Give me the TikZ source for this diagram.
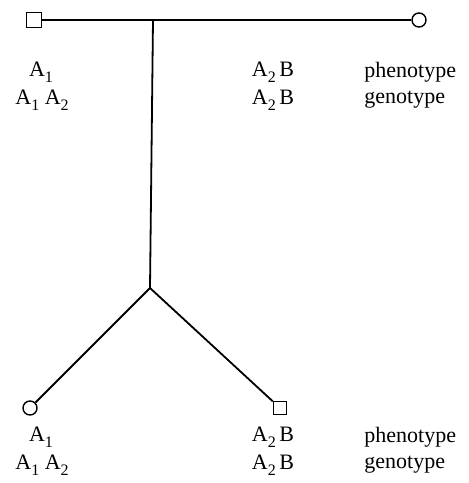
\documentclass[tikz,border=0pt]{standalone}
\usepackage{fontspec}
\setmainfont{Liberation Serif}
\newcommand{\allele}[2]{#1\raisebox{-0.55ex}{\footnotesize #2}}

\begin{document}
\begin{tikzpicture}
[every node/.style={inner sep=0pt}, font=\fontsize{11}{13}\selectfont]
\useasboundingbox (0pt, 0pt) rectangle (234pt, -241.5pt);
% parents
\node (father) [rectangle, minimum size=7.5pt, line width=0.7pt, draw=black] at (17.0pt, -10.0pt) {};
\node (mother) [circle, minimum size=7pt, line width=0.7pt, draw=black] at (209.5pt, -10.0pt) {};
\coordinate (mate) at (76.5pt, -10.0pt);
\coordinate (sibs) at (75.0pt, -144.0pt);
% children
\node (daughter) [circle, minimum size=7pt, line width=0.7pt, draw=black] at (15.0pt, -204.0pt) {};
\node (son) [rectangle, minimum size=6.5pt, line width=0.7pt, draw=black] at (140.0pt, -204.0pt) {};
\draw [line width=0.9pt, color=black] (father) to (mother);
\draw [line width=0.9pt, color=black] (mate) to (sibs);
\draw [line width=0.9pt, color=black] (sibs) to (daughter);
\draw [line width=0.9pt, color=black] (sibs) to (son);
% labels under the parents
\node (fatherphen) at (20.5pt, -36.0pt) {\allele{A}{1}};
\node (fathergen) at (21.0pt, -50.0pt) {\allele{A}{1} \allele{A}{2}};
\node (motherphen) at (136.5pt, -36.0pt) {\allele{A}{2}\,B};
\node (mothergen) at (136.5pt, -50.0pt) {\allele{A}{2}\,B};
\node (phen1) [anchor=west] at (182.0pt, -36.0pt) {phenotype};
\node (gen1) [anchor=west] at (182.0pt, -50.0pt) {genotype};
% labels under the children
\node (daughterphen) at (20.5pt, -218.5pt) {\allele{A}{1}};
\node (daughtergen) at (21.0pt, -232.5pt) {\allele{A}{1} \allele{A}{2}};
\node (sonphen) at (136.5pt, -218.5pt) {\allele{A}{2}\,B};
\node (songen) at (136.5pt, -232.5pt) {\allele{A}{2}\,B};
\node (phen2) [anchor=west] at (182.0pt, -218.5pt) {phenotype};
\node (gen2) [anchor=west] at (182.0pt, -232.5pt) {genotype};
\end{tikzpicture}
\end{document}
